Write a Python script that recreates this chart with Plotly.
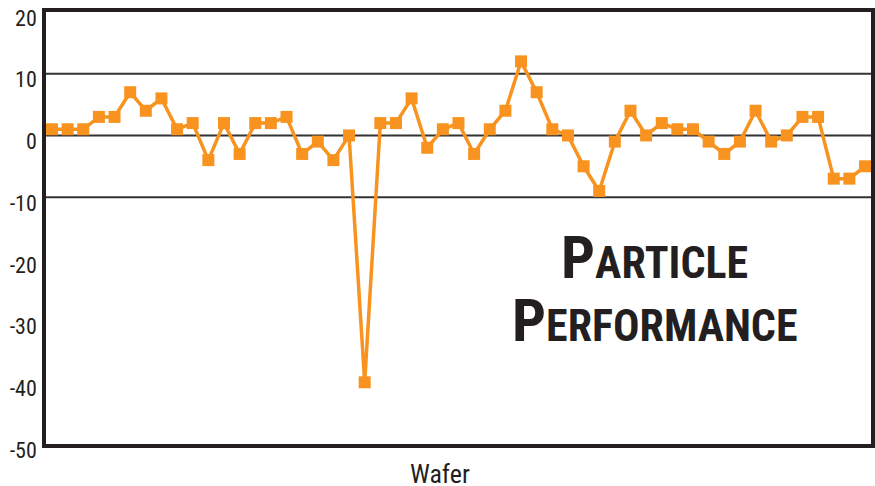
import plotly.graph_objects as go

wafer_values = [1, 1, 1, 3, 3, 7, 4, 6, 1, 2, -4, 2, -3, 2, 2, 3, -3, -1, -4, 0,
                -40, 2, 2, 6, -2, 1, 2, -3, 1, 4, 12, 7, 1, 0, -5, -9, -1, 4, 0, 2,
                1, 1, -1, -3, -1, 4, -1, 0, 3, 3, -7, -7, -5]
wafer_index = list(range(len(wafer_values)))
y_tick_vals = [20, 10, 0, -10, -20, -30, -40, -50]
y_tick_text = ["20", "10", "0", "-10", "-20", "-30", "-40", "-50"]
grid_levels = [10, 0, -10]
x_title = "Wafer"

ORANGE = "#F7931E"
DARK = "#231F20"
FONT = "Roboto Condensed, DejaVu Sans Condensed, sans-serif"

fig = go.Figure()
for g in grid_levels:
    fig.add_shape(type="line", xref="paper", yref="y", x0=0, x1=1, y0=g, y1=g,
                  line=dict(color="#333333", width=2), layer="below")

fig.add_trace(go.Scatter(
    x=wafer_index, y=wafer_values, mode="lines+markers",
    line=dict(color=ORANGE, width=3.5),
    marker=dict(symbol="square", size=12, color=ORANGE),
    showlegend=False, hoverinfo="skip",
))

fig.add_annotation(
    xref="paper", yref="paper", x=0.738, y=0.432, xanchor="center", yanchor="middle",
    showarrow=False,
    text="<b><span style='font-size:60px'>P</span>ARTICLE</b>",
    font=dict(family=FONT, size=44, color=DARK),
)
fig.add_annotation(
    xref="paper", yref="paper", x=0.738, y=0.287, xanchor="center", yanchor="middle",
    showarrow=False,
    text="<b><span style='font-size:60px'>P</span>ERFORMANCE</b>",
    font=dict(family=FONT, size=44, color=DARK),
)
fig.add_annotation(
    xref="paper", yref="paper", x=0.4776, y=-0.069, xanchor="center", yanchor="middle",
    showarrow=False, text=x_title,
    font=dict(family=FONT, size=26, color=DARK),
)

fig.update_layout(
    width=875, height=486,
    margin=dict(l=46, r=4, t=12, b=42),
    paper_bgcolor="white", plot_bgcolor="white",
    font=dict(family=FONT, color=DARK),
    xaxis=dict(
        range=[-0.384, 52.384], showticklabels=False, ticks="", showgrid=False,
        zeroline=False, showline=True, linecolor=DARK, linewidth=3.5, mirror=True,
        automargin=False,
    ),
    yaxis=dict(
        range=[-50, 20], tickmode="array", tickvals=y_tick_vals, ticktext=y_tick_text,
        tickfont=dict(family=FONT, size=22, color=DARK), ticks="", showgrid=False,
        zeroline=False, showline=True, linecolor=DARK, linewidth=3.5, mirror=True,
        ticklabelstandoff=1, ticklabelshift=6, ticklabeloverflow="allow",
        automargin=False,
    ),
)

fig.write_html("out.html", config={"displayModeBar": False},
               post_script="document.body.style.margin='0';")
